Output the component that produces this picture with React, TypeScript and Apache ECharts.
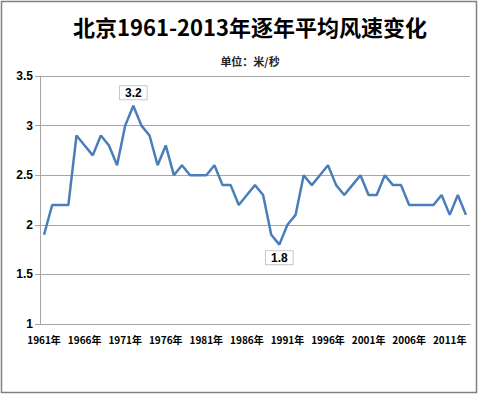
import React, { useEffect, useRef } from "react";
import * as echarts from "echarts";

const years: string[] = [];
for (let y = 1961; y <= 2013; y++) years.push(y + "年");

const windSpeed = [
  1.9, 2.2, 2.2, 2.2, 2.9, 2.8, 2.7, 2.9, 2.8, 2.6,
  3.0, 3.2, 3.0, 2.9, 2.6, 2.8, 2.5, 2.6, 2.5, 2.5,
  2.5, 2.6, 2.4, 2.4, 2.2, 2.3, 2.4, 2.3, 1.9, 1.8,
  2.0, 2.1, 2.5, 2.4, 2.5, 2.6, 2.4, 2.3, 2.4, 2.5,
  2.3, 2.3, 2.5, 2.4, 2.4, 2.2, 2.2, 2.2, 2.2, 2.3,
  2.1, 2.3, 2.1,
];

const titleText = "北京1961-2013年逐年平均风速变化";
const subtitleText = "单位：米/秒";

export default function App() {
  const ref = useRef<HTMLDivElement>(null);
  useEffect(() => {
    if (!ref.current) return;
    const chart = echarts.init(ref.current, undefined, { renderer: "svg" });
    const font = "'Noto Sans CJK SC', 'Noto Sans', sans-serif";
    const boxLabel = (pos: string) => ({
      show: true,
      position: pos,
      distance: 6,
      color: "#000",
      fontWeight: "bold",
      fontSize: 12,
      fontFamily: "Arial, 'Liberation Sans', sans-serif",
      backgroundColor: "#fff",
      borderColor: "#c8c8c8",
      borderWidth: 1,
      padding: [1, 5, 0, 5],
      formatter: (p: any) => String(p.value),
    });
    chart.setOption({
      animation: false,
      backgroundColor: "#fff",
      title: [
        {
          text: titleText,
          left: 245,
          top: 10,
          textAlign: "center",
          textStyle: { fontFamily: font, fontSize: 22, fontWeight: "bold", color: "#000" },
        },
        {
          text: subtitleText,
          left: 245,
          top: 50,
          textAlign: "center",
          textStyle: { fontFamily: font, fontSize: 11, fontWeight: "bold", color: "#222" },
        },
      ],
      graphic: [
        {
          type: "rect",
          shape: { x: 1.5, y: 1.5, width: 475, height: 391 },
          style: { fill: "none", stroke: "#808080", lineWidth: 1.5 },
          silent: true,
        },
      ],
      grid: { left: 40, right: 10, top: 76, bottom: 70, containLabel: false },
      xAxis: {
        type: "category",
        data: years,
        boundaryGap: true,
        axisLine: { lineStyle: { color: "#a6a6a6", width: 1 } },
        axisTick: { interval: 4, length: 4, lineStyle: { color: "#a6a6a6" } },
        axisLabel: {
          interval: 4,
          margin: 10,
          fontSize: 10,
          fontWeight: "bold",
          color: "#000",
          fontFamily: font,
        },
        splitLine: { show: false },
      },
      yAxis: {
        type: "value",
        min: 1,
        max: 3.5,
        interval: 0.5,
        axisLine: { show: true, lineStyle: { color: "#a6a6a6", width: 1 } },
        axisTick: { show: true, inside: false, length: 5, lineStyle: { color: "#a6a6a6" } },
        axisLabel: {
          margin: 7,
          fontSize: 12,
          fontWeight: "bold",
          color: "#000",
          fontFamily: "Arial, 'Liberation Sans', sans-serif",
        },
        splitLine: { show: true, lineStyle: { color: "#a6a6a6", width: 1 } },
      },
      series: [
        {
          type: "line",
          data: windSpeed,
          symbol: "none",
          lineStyle: { color: "#4a7ebb", width: 2.5 },
          itemStyle: { color: "#4a7ebb" },
          markPoint: {
            symbol: "circle",
            symbolSize: 1,
            itemStyle: { color: "rgba(0,0,0,0)" },
            data: [
              { type: "max", label: boxLabel("top") },
              { type: "min", label: boxLabel("bottom") },
            ],
          },
        },
      ],
    });
    return () => chart.dispose();
  }, []);
  return (
    <div
      ref={ref}
      style={{ position: "fixed", left: 0, top: 0, width: 480, height: 394 }}
    />
  );
}
